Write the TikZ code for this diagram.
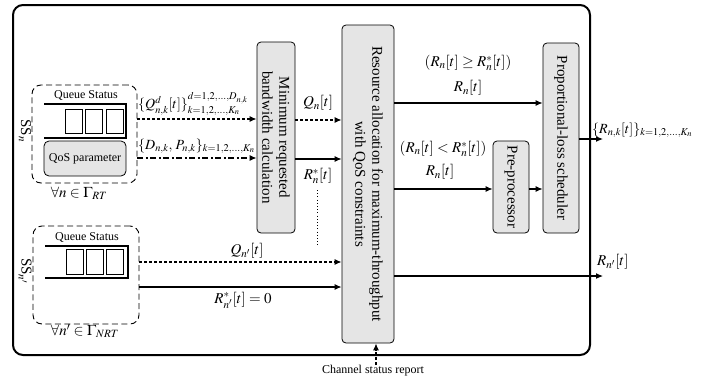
\documentclass[tikz,border=0pt]{standalone}
\usepackage{mathptmx}
\usepackage{fontspec}
\setmainfont{Liberation Serif}
\usetikzlibrary{arrows.meta}

\begin{document}
\begin{tikzpicture}[x=1pt,y=-1pt,
  blk/.style={draw, line width=0.8pt, fill=black!10, rounded corners=4pt, inner sep=0pt},
  grp/.style={draw, line width=0.9pt, dash pattern=on 6pt off 3.5pt, rounded corners=9pt, inner sep=0pt},
  rtxt/.style={rotate=-90, align=center, font=\fontsize{15}{17}\selectfont, inner sep=0pt},
  lbl/.style={font=\fontsize{15}{17}\selectfont, inner sep=0pt},
  mlbl/.style={font=\fontsize{14}{16}\selectfont, inner sep=0pt, anchor=west},
  slbl/.style={font=\fontsize{12}{14}\selectfont, inner sep=0pt},
  tip/.style={-{Latex[length=7pt,width=6pt]}},
  solidarr/.style={tip, line width=1.1pt},
  dotarr/.style={tip, line width=1.2pt, dash pattern=on 3pt off 2pt},
  dasharr/.style={tip, line width=1.2pt, dash pattern=on 6pt off 2.5pt on 2pt off 2.5pt},
  cell/.style={draw, line width=0.6pt},
  qline/.style={line width=1.3pt}]
\useasboundingbox (0,0) rectangle (702,381);

% outer frame
\draw[line width=2pt, rounded corners=10pt] (13,5) rectangle (590,355);

% processing blocks
\node[blk, minimum width=38pt, minimum height=191pt] (mrb) at (276,137.5) {};
\node[rtxt] at (mrb) {Minimum requested\\bandwidth calculation};
\node[blk, minimum width=52pt, minimum height=318pt] (ra) at (368,184) {};
\node[rtxt] at (ra) {Resource allocation for maximum-throughput\\with QoS constraints};
\node[blk, minimum width=36pt, minimum height=190pt] (pls) at (561,138) {};
\node[rtxt] at (pls) {Proportional-loss scheduler};
\node[blk, minimum width=36pt, minimum height=92pt] (pre) at (511,187) {};
\node[rtxt] at (pre) {Pre-processor};

% real-time subscriber station
\node[grp, minimum width=105pt, minimum height=98pt] (ssn) at (84.5,134) {};
\node[slbl] (qs1) at (86,95) {Queue Status};
\draw[qline] (44,104) -- (126,104) -- (126,138) -- (44,138);
\draw[cell] (65,109) rectangle (82,133);
\draw[cell] (85,109) rectangle (102,133);
\draw[cell] (106,109) rectangle (123,133);
\node[blk, minimum width=82pt, minimum height=35pt, rounded corners=5pt] (qos) at (85,158.5) {};
\node[slbl] at (qos) {QoS parameter};
\node[lbl, rotate=-90] (ssnl) at (25,131) {SS$_n$};
\node[lbl] (rt) at (79,193) {$\forall n\in\Gamma_{RT}$};

% non-real-time subscriber station
\node[grp, minimum width=106pt, minimum height=98pt] (ssm) at (86,275) {};
\node[slbl] (qs2) at (87,237) {Queue Status};
\draw[qline] (45,246) -- (128,246) -- (128,278) -- (45,278);
\draw[cell] (66,249) rectangle (83,274);
\draw[cell] (86,249) rectangle (103,274);
\draw[cell] (106,249) rectangle (123,274);
\node[lbl, rotate=-90] (ssml) at (25,271) {SS$_{n'}$};
\node[lbl] (nrt) at (85,331) {$\forall n'\in\Gamma_{NRT}$};

% inputs to the bandwidth calculation
\draw[dotarr] (ssn.east |- 0,119) -- (mrb.west |- 0,119);
\node[mlbl] at (138,104) {$\{Q^{d}_{n,k}[t]\}^{d=1,2,\ldots,D_{n,k}}_{k=1,2,\ldots,K_n}$};
\draw[dasharr] (ssn.east |- 0,158) -- (mrb.west |- 0,158);
\node[mlbl] at (138,146) {$\{D_{n,k},\,P_{n,k}\}_{k=1,2,\ldots,K_n}$};

% bandwidth calculation to resource allocation
\draw[dotarr] (mrb.east |- 0,120) -- (ra.west |- 0,120);
\node[lbl] at (318,103) {$Q_n[t]$};
\draw[solidarr] (mrb.east |- 0,159) -- (ra.west |- 0,159);
\node[lbl] at (318,176) {$R_n^{*}[t]$};
\draw[line width=0.9pt, dash pattern=on 1pt off 2.2pt] (317,190) -- (317,246);

% non-real-time inputs
\draw[dotarr] (ssm.east |- 0,262) -- (ra.west |- 0,262);
\node[lbl] at (247,251) {$Q_{n'}[t]$};
\draw[solidarr] (ssm.east |- 0,287) -- (ra.west |- 0,287);
\node[lbl] at (243,300) {$R^{*}_{n'}[t]=0$};

% resource allocation outputs
\draw[solidarr] (ra.east |- 0,103) -- (pls.west |- 0,103);
\node[lbl] at (468,63) {$(R_n[t]\geq R_n^{*}[t])$};
\node[lbl] at (468,88) {$R_n[t]$};
\draw[solidarr] (ra.east |- 0,189) -- (pre.west |- 0,189);
\node[lbl] at (443,149) {$(R_n[t]< R_n^{*}[t])$};
\node[lbl] at (440,172) {$R_n[t]$};
\draw[solidarr] (pre.east |- 0,189) -- (pls.west |- 0,189);

% final outputs
\coordinate (out1) at (603,139);
\coordinate (out2) at (603,276);
\draw[solidarr] (pls.east |- out1) -- (out1);
\node[mlbl] at (592,130) {$\{R_{n,k}[t]\}_{k=1,2,\ldots,K_n}$};
\draw[solidarr] (ra.east |- out2) -- (out2);
\node[lbl, anchor=west] at (597,262) {$R_{n'}[t]$};

% channel feedback
\node[slbl, anchor=north] (csr) at (373,365) {Channel status report};
\coordinate (cs) at ([xshift=8pt]ra.south);
\draw[dotarr] (csr.north -| cs) -- (cs);
\end{tikzpicture}
\end{document}
